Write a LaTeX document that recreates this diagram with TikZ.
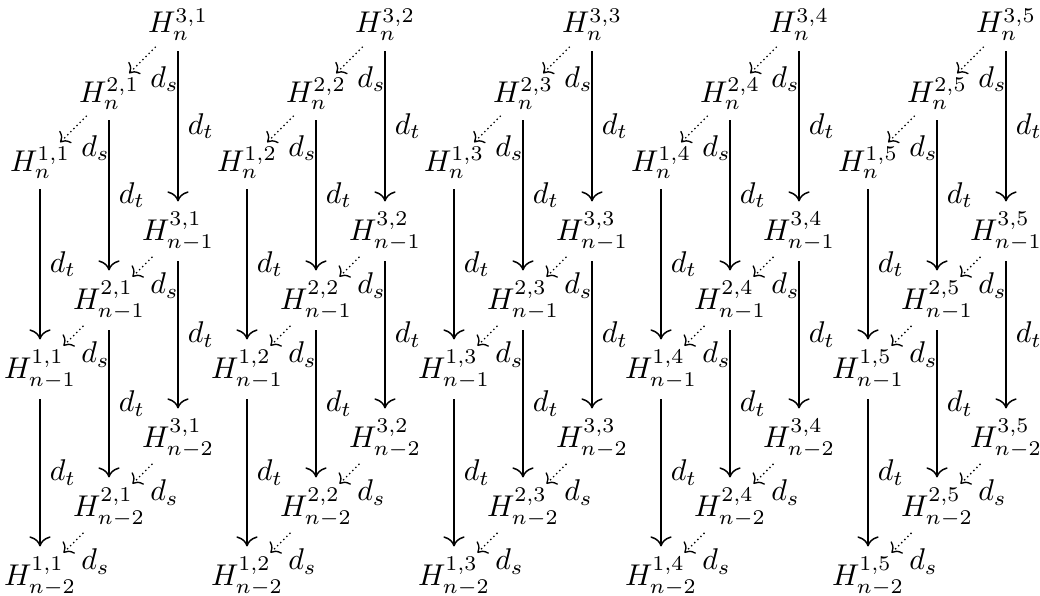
\documentclass[tikz,border=0pt]{standalone}
\usetikzlibrary{arrows.meta}
\begin{document}
\begin{tikzpicture}[x=0.3333pt,y=-0.3333pt,
  hnode/.style={anchor=base, inner sep=3.33pt, outer sep=0.2pt},
  tarrow/.style={-{To[scale=1.25]}, line width=0.5pt},
  sarrow/.style={-{To[scale=1.05]}, densely dotted, line width=0.45pt, shorten <=-2pt, shorten >=-3pt},
  tlab/.style={right, inner sep=3pt},
  slab/.style={pos=0.5, shift={(21,20)}, inner sep=0pt}]
\useasboundingbox (0,0) rectangle (1040,595);
\foreach \c in {1,...,5} {
  \foreach \L in {1,2,3} {
    \foreach \r/\s in {0/n,1/n-1,2/n-2} {
      \node[hnode] (h-\L-\c-\r) at ({40+(\L-1)*69+(\c-1)*207},{33+(3-\L)*69+\r*207}) {$H^{\L,\c}_{\s}$};
    }
  }
}
\foreach \c in {1,...,5} {
  \foreach \L in {1,2,3} {
    \foreach \r/\q in {0/1,1/2} {
      \draw[tarrow] (h-\L-\c-\r) -- node[tlab] {$d_t$} (h-\L-\c-\q);
    }
  }
}
\foreach \c in {1,...,5} {
  \foreach \r in {0,1,2} {
    \foreach \L/\M in {3/2,2/1} {
      \draw[sarrow] (h-\L-\c-\r) -- node[slab] {$d_s$} (h-\M-\c-\r);
    }
  }
}
\end{tikzpicture}
\end{document}
